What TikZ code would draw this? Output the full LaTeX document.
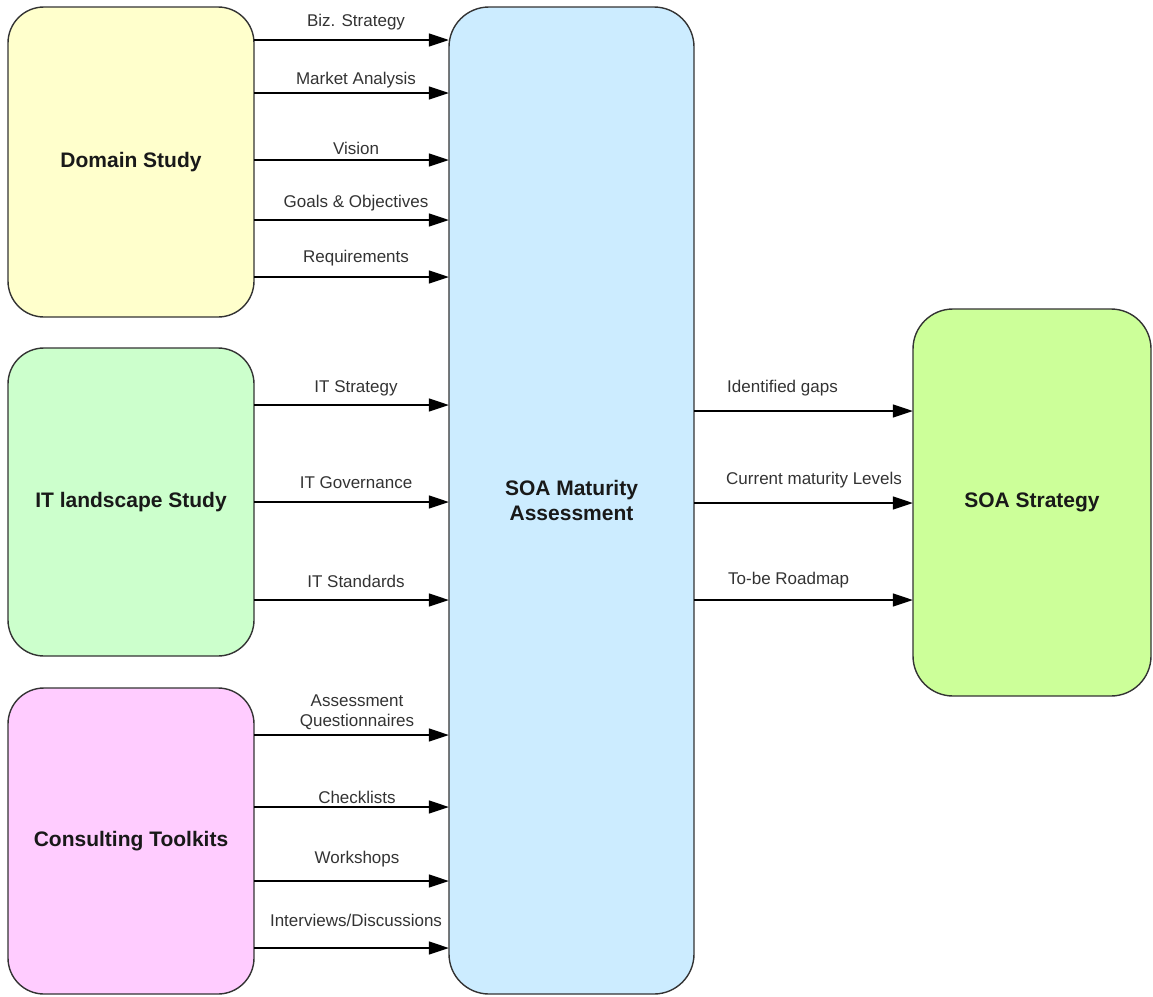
\documentclass[tikz,border=0pt]{standalone}
\usepackage{fontspec}
\setmainfont{Liberation Sans}
\usetikzlibrary{arrows.meta}
\definecolor{cdom}{HTML}{FFFFCC}
\definecolor{cit}{HTML}{CCFFCC}
\definecolor{ccons}{HTML}{FFCCFF}
\definecolor{csoa}{HTML}{CCECFF}
\definecolor{cstrat}{HTML}{CCFF99}
\definecolor{cedge}{HTML}{333333}
\tikzset{
  boxstyle/.style={draw=cedge, line width=1.4pt, rounded corners=36pt},
  titletext/.style={font=\fontsize{21}{25}\selectfont\bfseries, text=black!90, align=center},
  lbl/.style={font=\fontsize{17}{19.5}\selectfont, text=black!80, inner sep=0pt, align=center},
  arr/.style={draw=black, line width=1.4pt, -{Triangle[length=20pt,width=13pt]}},
}
\begin{document}
\begin{tikzpicture}[x=1pt,y=-1pt]
\useasboundingbox (0,0) rectangle (1153,996);
% boxes
\draw[boxstyle, fill=cdom] (8,7) rectangle (254,317);
\draw[boxstyle, fill=cit] (8,348) rectangle (254,656);
\draw[boxstyle, fill=ccons] (8,688) rectangle (254,994);
\draw[boxstyle, fill=csoa, rounded corners=40pt] (449,7) rectangle (694,994);
\draw[boxstyle, fill=cstrat, rounded corners=40pt] (913,309) rectangle (1151,696);
% named nodes over boxes
\node[titletext, minimum width=246pt, minimum height=310pt] (dom) at (131,162) {Domain Study};
\node[titletext, minimum width=246pt, minimum height=308pt] (it) at (131,502) {IT landscape Study};
\node[titletext, minimum width=246pt, minimum height=306pt] (cons) at (131,841) {Consulting Toolkits};
\node[titletext, minimum width=245pt, minimum height=987pt] (soa) at (571.5,500.5) {SOA Maturity\\Assessment};
\node[titletext, minimum width=238pt, minimum height=387pt] (strat) at (1032,502) {SOA Strategy};
% left arrows
\draw[arr] (dom.east |- 0,40) -- (soa.west |- 0,40);
\draw[arr] (dom.east |- 0,93) -- (soa.west |- 0,93);
\draw[arr] (dom.east |- 0,160) -- (soa.west |- 0,160);
\draw[arr] (dom.east |- 0,220) -- (soa.west |- 0,220);
\draw[arr] (dom.east |- 0,277) -- (soa.west |- 0,277);
\draw[arr] (it.east |- 0,405) -- (soa.west |- 0,405);
\draw[arr] (it.east |- 0,502) -- (soa.west |- 0,502);
\draw[arr] (it.east |- 0,600) -- (soa.west |- 0,600);
\draw[arr] (cons.east |- 0,735) -- (soa.west |- 0,735);
\draw[arr] (cons.east |- 0,807) -- (soa.west |- 0,807);
\draw[arr] (cons.east |- 0,881) -- (soa.west |- 0,881);
\draw[arr] (cons.east |- 0,948) -- (soa.west |- 0,948);
% right arrows
\draw[arr] (soa.east |- 0,411) -- (strat.west |- 0,411);
\draw[arr] (soa.east |- 0,503) -- (strat.west |- 0,503);
\draw[arr] (soa.east |- 0,600) -- (strat.west |- 0,600);
% labels
\node[lbl] (l1) at (356,22) {Biz. Strategy};
\node[lbl] (l2) at (356,80) {Market Analysis};
\node[lbl] (l3) at (356,148) {Vision};
\node[lbl] (l4) at (356,203) {Goals \& Objectives};
\node[lbl] (l5) at (356,258) {Requirements};
\node[lbl] (l6) at (356,388) {IT Strategy};
\node[lbl] (l7) at (356,483) {IT Governance};
\node[lbl] (l8) at (356,581) {IT Standards};
\node[lbl] (l9) at (357,712) {Assessment\\Questionnaires};
\node[lbl] (l10) at (357,797) {Checklists};
\node[lbl] (l11) at (357,859) {Workshops};
\node[lbl] (l12) at (356,920) {Interviews/Discussions};
\node[lbl, anchor=west] (r1) at (727,388) {Identified gaps};
\node[lbl, anchor=west] (r2) at (726,480) {Current maturity Levels};
\node[lbl, anchor=west] (r3) at (728,580) {To-be Roadmap};
\end{tikzpicture}
\end{document}
